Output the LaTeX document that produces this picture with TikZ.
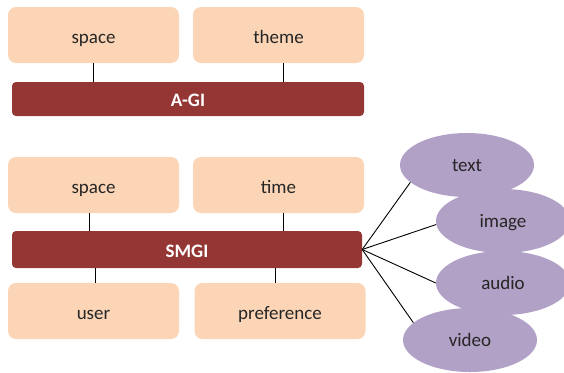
\documentclass[tikz,border=0pt]{standalone}
\usepackage{fontspec}
\setmainfont{Carlito}
\usetikzlibrary{shapes.geometric}
\definecolor{peach}{HTML}{FBD5B5}
\definecolor{barred}{HTML}{943634}
\definecolor{lilac}{HTML}{B1A1C6}
\definecolor{txt}{HTML}{262626}
\begin{document}
\begin{tikzpicture}[x=1pt,y=-1pt,
  box/.style={fill=peach, rounded corners=8pt, minimum width=171pt, minimum height=56pt, inner sep=0pt, text height=18pt, text depth=2pt, font=\fontsize{19}{22}\selectfont, text=txt},
  bar/.style={fill=barred, rounded corners=4pt, inner sep=0pt, text height=17pt, text depth=2pt, font=\fontsize{19}{22}\selectfont\bfseries, text=white},
  media/.style={ellipse, fill=lilac, minimum width=134pt, minimum height=64pt, inner sep=0pt, text height=14pt, text depth=2pt, font=\fontsize{19}{22}\selectfont, text=txt},
  link/.style={draw=black, line width=0.9pt}]
\useasboundingbox (0,0) rectangle (564,372);
% top group
\node[box] (space1) at (93.5,35) {space};
\node[box] (theme) at (278.5,35) {theme};
\node[bar, minimum width=352pt, minimum height=34pt] (agi) at (188,99) {A-GI};
\draw[link] (space1.south) -- (space1.south |- agi.north);
\draw[link] ([xshift=4.5pt]theme.south) -- ([xshift=4.5pt]theme.south |- agi.north);
% second group
\node[box] (space2) at (93.5,185) {space};
\node[box] (time) at (278.5,185) {time};
\node[bar, minimum width=350pt, minimum height=37pt] (smgi) at (187,249.5) {SMGI};
\node[box] (user) at (93.5,311) {user};
\node[box] (pref) at (280,311) {preference};
\draw[link] ([xshift=-4.5pt]space2.south) -- ([xshift=-4.5pt]space2.south |- smgi.north);
\draw[link] ([xshift=4.5pt]time.south) -- ([xshift=4.5pt]time.south |- smgi.north);
\draw[link] ([xshift=1.5pt]user.north) -- ([xshift=1.5pt]user.north |- smgi.south);
\draw[link] ([xshift=-5pt]pref.north) -- ([xshift=-5pt]pref.north |- smgi.south);
% media ellipses
\node[media] (text) at (467,165) {text};
\node[media] (image) at (503,221) {image};
\node[media] (audio) at (503,283) {audio};
\node[media] (video) at (470,340) {video};
\draw[link] (smgi.east) -- (text.197);
\draw[link] (smgi.east) -- (image.183);
\draw[link] (smgi.east) -- (audio.180);
\draw[link] (smgi.east) -- (video.163);
\end{tikzpicture}
\end{document}
